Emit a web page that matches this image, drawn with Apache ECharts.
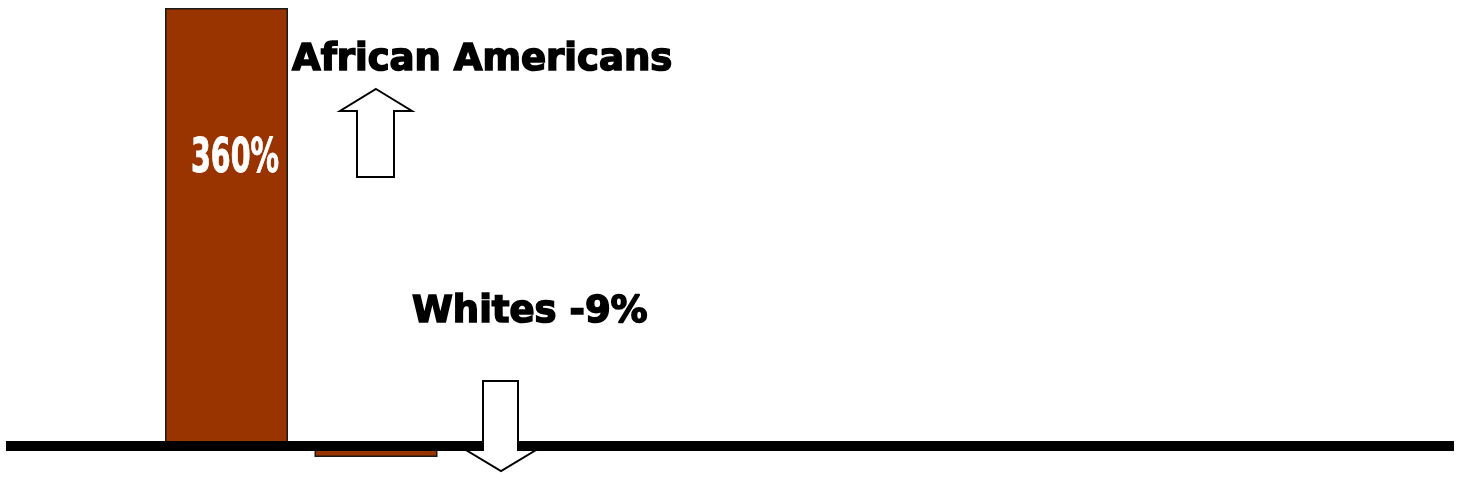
<!DOCTYPE html>
<html>
<head>
<meta charset="utf-8">
<script src="https://cdn.jsdelivr.net/npm/echarts@6/dist/echarts.min.js"></script>
<style>
  html, body { margin: 0; padding: 0; background: #fff; }
  #chart { width: 1463px; height: 489px; }
</style>
</head>
<body>
<div id="chart"></div>
<script>
// Percent change by group
const categories = ['African Americans', 'Whites'];
const changePct = [360, -9];

// Value axis range (percent)
const yMin = -30;
const yMax = 360;

const chart = echarts.init(document.getElementById('chart'), null, { renderer: 'canvas' });

const barColor = '#993300';
const heavyFont = '"DejaVu Sans", sans-serif';

const option = {
  animation: false,
  backgroundColor: '#ffffff',
  grid: [
    // bars
    { left: 151.75, right: 1012.25, top: 8, bottom: 6.5 },
    // full-width baseline
    { left: 6, right: 9, top: 8, bottom: 6.5 }
  ],
  xAxis: [
    {
      type: 'category', gridIndex: 0, data: categories,
      axisLine: { show: false }, axisTick: { show: false }, axisLabel: { show: false }
    },
    {
      type: 'category', gridIndex: 1, data: [''],
      axisLine: { show: true, onZero: true, lineStyle: { color: '#000', width: 10, cap: 'butt' } },
      axisTick: { show: false }, axisLabel: { show: false }, z: 5
    }
  ],
  yAxis: [
    { type: 'value', gridIndex: 0, min: yMin, max: yMax, show: false },
    { type: 'value', gridIndex: 1, min: yMin, max: yMax, show: false }
  ],
  series: [
    {
      type: 'bar',
      xAxisIndex: 0, yAxisIndex: 0,
      data: changePct,
      barWidth: 123,
      itemStyle: { color: barColor, borderColor: '#1a1a1a', borderWidth: 1.5 },
      z: 2
    },
    { type: 'bar', xAxisIndex: 1, yAxisIndex: 1, data: [] }
  ],
  graphic: [
    // value inside the tall bar
    {
      type: 'text', x: 235, y: 160, z: 10, scaleX: 0.66,
      style: {
        text: changePct[0] + '%',
        fill: '#ffffff', stroke: '#ffffff', lineWidth: 0.9,
        font: 'bold 48px "DejaVu Sans Condensed", "DejaVu Sans", sans-serif',
        align: 'center', verticalAlign: 'middle'
      }
    },
    {
      type: 'text', x: 292, y: 60, z: 10,
      style: {
        text: categories[0],
        fill: '#000', stroke: '#000', lineWidth: 1.6,
        font: 'bold 37px ' + heavyFont,
        align: 'left', verticalAlign: 'middle'
      }
    },
    {
      type: 'text', x: 412, y: 312, z: 10,
      style: {
        text: categories[1] + ' ' + changePct[1] + '%',
        fill: '#000', stroke: '#000', lineWidth: 1.6,
        font: 'bold 37px ' + heavyFont,
        align: 'left', verticalAlign: 'middle'
      }
    },
    // up arrow
    {
      type: 'polygon', z: 10,
      shape: { points: [[376, 89], [412, 111], [394, 111], [394, 177], [357, 177], [357, 111], [340, 111]] },
      style: { fill: '#fff', stroke: '#000', lineWidth: 2 }
    },
    // down arrow
    {
      type: 'polygon', z: 10,
      shape: { points: [[483, 381], [518, 381], [518, 450], [536, 450], [501, 471], [466, 450], [483, 450]] },
      style: { fill: '#fff', stroke: '#000', lineWidth: 2 }
    }
  ]
};

chart.setOption(option);
</script>
</body>
</html>
